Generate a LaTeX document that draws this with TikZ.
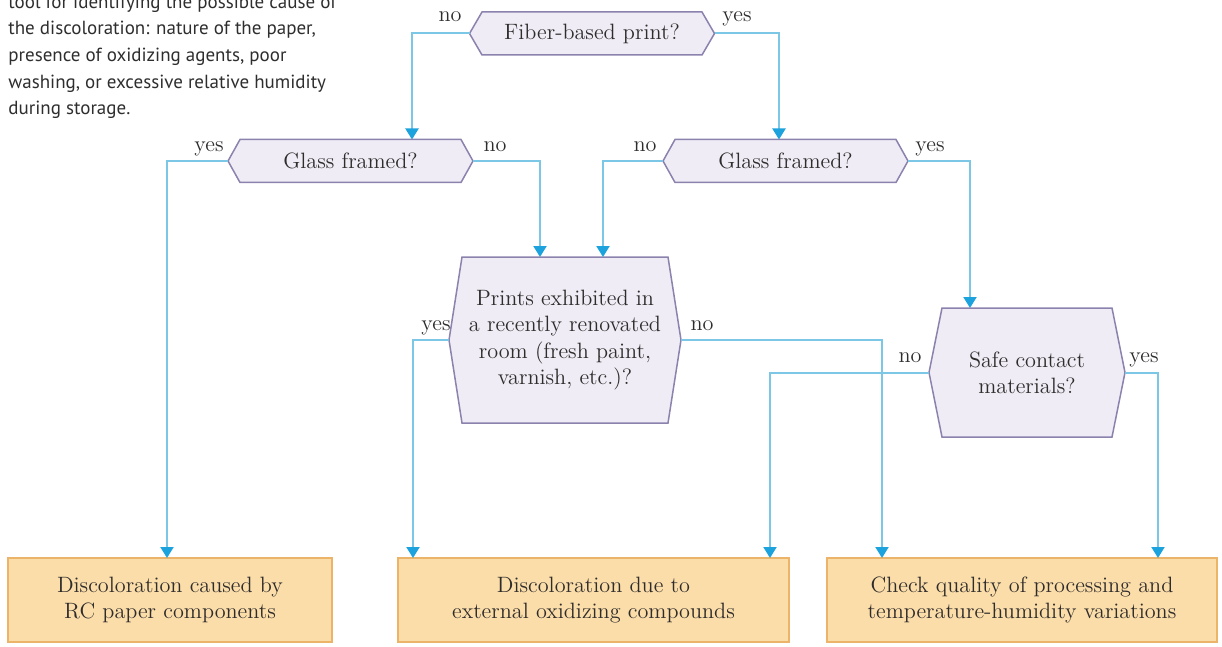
\documentclass[tikz,border=0pt]{standalone}
\usepackage{fontspec}
\newfontfamily\sidefont{PT Sans}
\usetikzlibrary{arrows.meta,backgrounds,calc}
\definecolor{hexfill}{HTML}{EFECF5}
\definecolor{hexline}{HTML}{8C82AE}
\definecolor{boxfill}{HTML}{FBDDA9}
\definecolor{boxline}{HTML}{ECB468}
\definecolor{flowblue}{HTML}{7DC7E6}
\definecolor{tipblue}{HTML}{1CA2DD}
\definecolor{textgray}{HTML}{2F2C2C}
\definecolor{sidegray}{HTML}{2E2E2E}
\newcommand\hexof[2]{\filldraw[fill=hexfill,draw=hexline,line width=0.75pt,line join=miter]
  (#1.north west) -- (#1.north east) -- ($(#1.east)+(#2,0)$) -- (#1.south east)
  -- (#1.south west) -- ($(#1.west)+(-#2,0)$) -- cycle;}
\begin{document}
\begin{tikzpicture}[x=0.5pt,y=-0.5pt,
  txt/.style={text=textgray,font=\fontsize{11.1}{13.2}\selectfont},
  lbl/.style={txt,anchor=base,inner sep=0pt},
  dec/.style={txt,align=center,inner sep=0pt,outer sep=0pt},
  res/.style={txt,align=center,draw=boxline,fill=boxfill,line width=0.75pt,
              inner sep=0pt,outer sep=0pt,minimum height=42pt},
  flow/.style={draw=flowblue,line width=1pt,
              -{Triangle[width=6.5pt,length=5.5pt,color=tipblue]}},
  side/.style={text=sidegray,font=\sidefont\fontsize{9.5}{11}\selectfont,
              anchor=base west,inner sep=0pt}
]
\useasboundingbox (0,0) rectangle (1222,647);

% side text
\node[side] (s1) at (8,8.5) {tool for identifying the possible cause of};
\node[side] (s2) at (8,35) {the discoloration: nature of the paper,};
\node[side] (s3) at (8,61.7) {presence of oxidizing agents, poor};
\node[side] (s4) at (8,88.3) {washing, or excessive relative humidity};
\node[side] (s5) at (8,115) {during storage.};

% decisions
\node[dec,minimum width=110pt,minimum height=21.5pt] (fib) at (592,33.5) {Fiber-based print?};
\node[dec,minimum width=110.5pt,minimum height=21.5pt] (gl1) at (350.5,161) {Glass framed?};
\node[dec,minimum width=110.5pt,minimum height=21.5pt] (gl2) at (785.5,161) {Glass framed?};
\node[dec,minimum width=103pt,minimum height=83pt] (pr) at (565,340)
  {Prints exhibited in\\a recently renovated\\room (fresh paint,\\varnish, etc.)?};
\node[dec,minimum width=85pt,minimum height=64.5pt] (sf) at (1027,372.5)
  {Safe contact\\materials?};

\begin{pgfonlayer}{background}
\hexof{fib}{12.5}
\hexof{gl1}{12}
\hexof{gl2}{12}
\hexof{pr}{13}
\hexof{sf}{13}
\end{pgfonlayer}

% results
\node[res,minimum width=162pt] (b1) at (170,600)
  {Discoloration caused by\\RC paper components};
\node[res,minimum width=195.5pt] (b2) at (593.5,600)
  {Discoloration due to\\external oxidizing compounds};
\node[res,minimum width=195pt] (b3) at (1022,600)
  {Check quality of processing and\\temperature-humidity variations};

% tips
\coordinate (fibW) at ($(fib.west)+(-12.5,0)$);
\coordinate (fibE) at ($(fib.east)+(12.5,0)$);
\coordinate (gl1W) at ($(gl1.west)+(-12,0)$);
\coordinate (gl1E) at ($(gl1.east)+(12,0)$);
\coordinate (gl2W) at ($(gl2.west)+(-12,0)$);
\coordinate (gl2E) at ($(gl2.east)+(12,0)$);
\coordinate (prW) at ($(pr.west)+(-13,0)$);
\coordinate (prE) at ($(pr.east)+(13,0)$);
\coordinate (sfW) at ($(sf.west)+(-13,0)$);
\coordinate (sfE) at ($(sf.east)+(13,0)$);

% connectors
\draw[flow] (fibW) -| ($(gl1.north)+(61.5,0)$);
\draw[flow] (fibE) -| ($(gl2.north)+(-6.5,0)$);
\draw[flow] (gl1W) -| ($(b1.north)+(-3,0)$);
\draw[flow] (gl1E) -| ($(pr.north)+(-25,0)$);
\draw[flow] (gl2W) -| ($(pr.north)+(38,0)$);
\draw[flow] (gl2E) -| ($(sf.north)+(-57,0)$);
\draw[flow] (prW) -| ($(b2.north)+(-180.5,0)$);
\draw[flow] (prE) -| ($(b3.north)+(-140,0)$);
\draw[flow] (sfW) -| ($(b2.north)+(176.5,0)$);
\draw[flow] (sfE) -| ($(b3.north)+(136,0)$);

% labels
\node[lbl] (l1) at (450,22) {no};
\node[lbl] (l2) at (737,22) {yes};
\node[lbl] (l3) at (209,152) {yes};
\node[lbl] (l4) at (495,152) {no};
\node[lbl] (l5) at (645,152) {no};
\node[lbl] (l6) at (930,152) {yes};
\node[lbl] (l7) at (436,330) {yes};
\node[lbl] (l8) at (702,330) {no};
\node[lbl] (l9) at (910,362) {no};
\node[lbl] (l10) at (1144,362) {yes};
\end{tikzpicture}
\end{document}
